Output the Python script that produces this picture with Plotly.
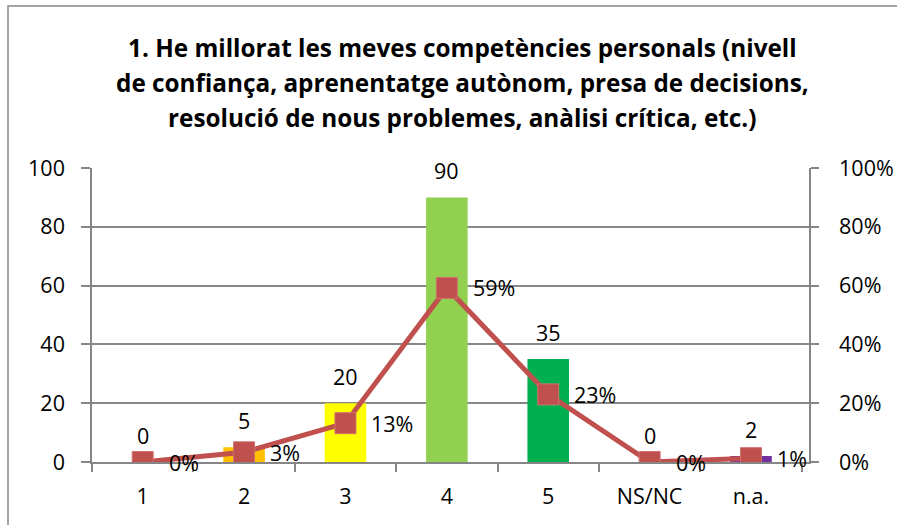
import plotly.graph_objects as go

categories = ["1", "2", "3", "4", "5", "NS/NC", "n.a."]
counts = [0, 5, 20, 90, 35, 0, 2]
percents = [0.0, 0.033, 0.132, 0.592, 0.230, 0.0, 0.013]
bar_colors = ["#FFC000", "#FFC000", "#FFFF00", "#92D050", "#00B050", "#7030A0", "#7030A0"]
title_lines = [
    "1. He millorat les meves competències personals (nivell",
    "de confiança, aprenentatge autònom, presa de decisions,",
    "resolució de nous problemes, anàlisi crítica, etc.)",
]
y_ticks = [0, 20, 40, 60, 80, 100]
y2_ticks = [0, 0.2, 0.4, 0.6, 0.8, 1.0]

FONT = "Open Sans"
GRID = "#868686"
LINE_COLOR = "#C0504D"
FS = 21.5

fig = go.Figure()
fig.add_trace(go.Bar(
    x=categories, y=counts, marker=dict(color=bar_colors, line=dict(width=0)),
    width=0.41, hoverinfo="skip", showlegend=False, yaxis="y",
))
fig.add_trace(go.Scatter(
    x=categories, y=percents, mode="lines+markers", yaxis="y2",
    line=dict(color=LINE_COLOR, width=5),
    marker=dict(symbol="square", size=21, color=LINE_COLOR,
                line=dict(color="#D0726F", width=1)),
    hoverinfo="skip", showlegend=False,
))

annotations = []
for i, v in enumerate(counts):
    annotations.append(dict(x=i, y=v, xref="x", yref="y", text=str(v), showarrow=False,
                            yanchor="middle", xanchor="center", yshift=27,
                            font=dict(family=FONT, size=FS, color="black")))
for i, p in enumerate(percents):
    annotations.append(dict(x=i, y=p, xref="x", yref="y2", text=f"{round(p*100):d}%",
                            showarrow=False, yanchor="middle", xanchor="left", xshift=24,
                            font=dict(family=FONT, size=FS, color="black")))
for i, line in enumerate(title_lines):
    annotations.append(dict(x=(462 - 92) / 717, xref="paper", y=1, yref="paper",
                            text=f"<b>{line}</b>", showarrow=False, yanchor="middle",
                            xanchor="center", yshift=121 - 35 * i,
                            font=dict(family=FONT, size=24.3, color="black")))

fig.update_layout(
    width=897, height=525,
    margin=dict(l=92, r=88, t=168, b=63, autoexpand=False),
    paper_bgcolor="white", plot_bgcolor="white",
    font=dict(family=FONT, size=FS, color="black"),
    annotations=annotations,
    xaxis=dict(
        type="category", showline=True, linecolor=GRID, linewidth=1.5, automargin=False,
        ticks="outside", tickson="boundaries", ticklen=8, tickcolor=GRID, tickwidth=1.5,
        showgrid=False, ticklabelstandoff=14,
        tickfont=dict(family=FONT, size=FS, color="black"),
    ),
    yaxis=dict(
        range=[0, 100], tickvals=y_ticks, showline=True, linecolor=GRID, linewidth=1.5,
        ticks="outside", ticklen=9, tickcolor=GRID, tickwidth=1.5, automargin=False,
        showgrid=True, gridcolor=GRID, gridwidth=1.5, zeroline=False,
        ticklabelstandoff=12, tickfont=dict(family=FONT, size=FS, color="black"),
    ),
    yaxis2=dict(
        range=[0, 1], tickvals=y2_ticks, tickformat=".0%", overlaying="y", side="right",
        showline=True, linecolor=GRID, linewidth=1.5, automargin=False,
        ticks="outside", ticklen=8, tickcolor=GRID, tickwidth=1.5,
        showgrid=False, zeroline=False, ticklabelstandoff=16,
        tickfont=dict(family=FONT, size=FS, color="black"),
    ),
    shapes=[dict(type="rect", xref="paper", yref="paper",
                 x0=(8 - 92) / 717, x1=(1000 - 92) / 717,
                 y0=(462 - 600) / 294, y1=(462 - 6) / 294,
                 line=dict(color=GRID, width=1.5), fillcolor="rgba(0,0,0,0)", layer="below")],
)

fig.write_html(
    "out.html", config={"displayModeBar": False},
    post_script="document.body.style.margin='0';document.body.style.overflow='hidden';"
                "document.documentElement.style.overflow='hidden';",
)
